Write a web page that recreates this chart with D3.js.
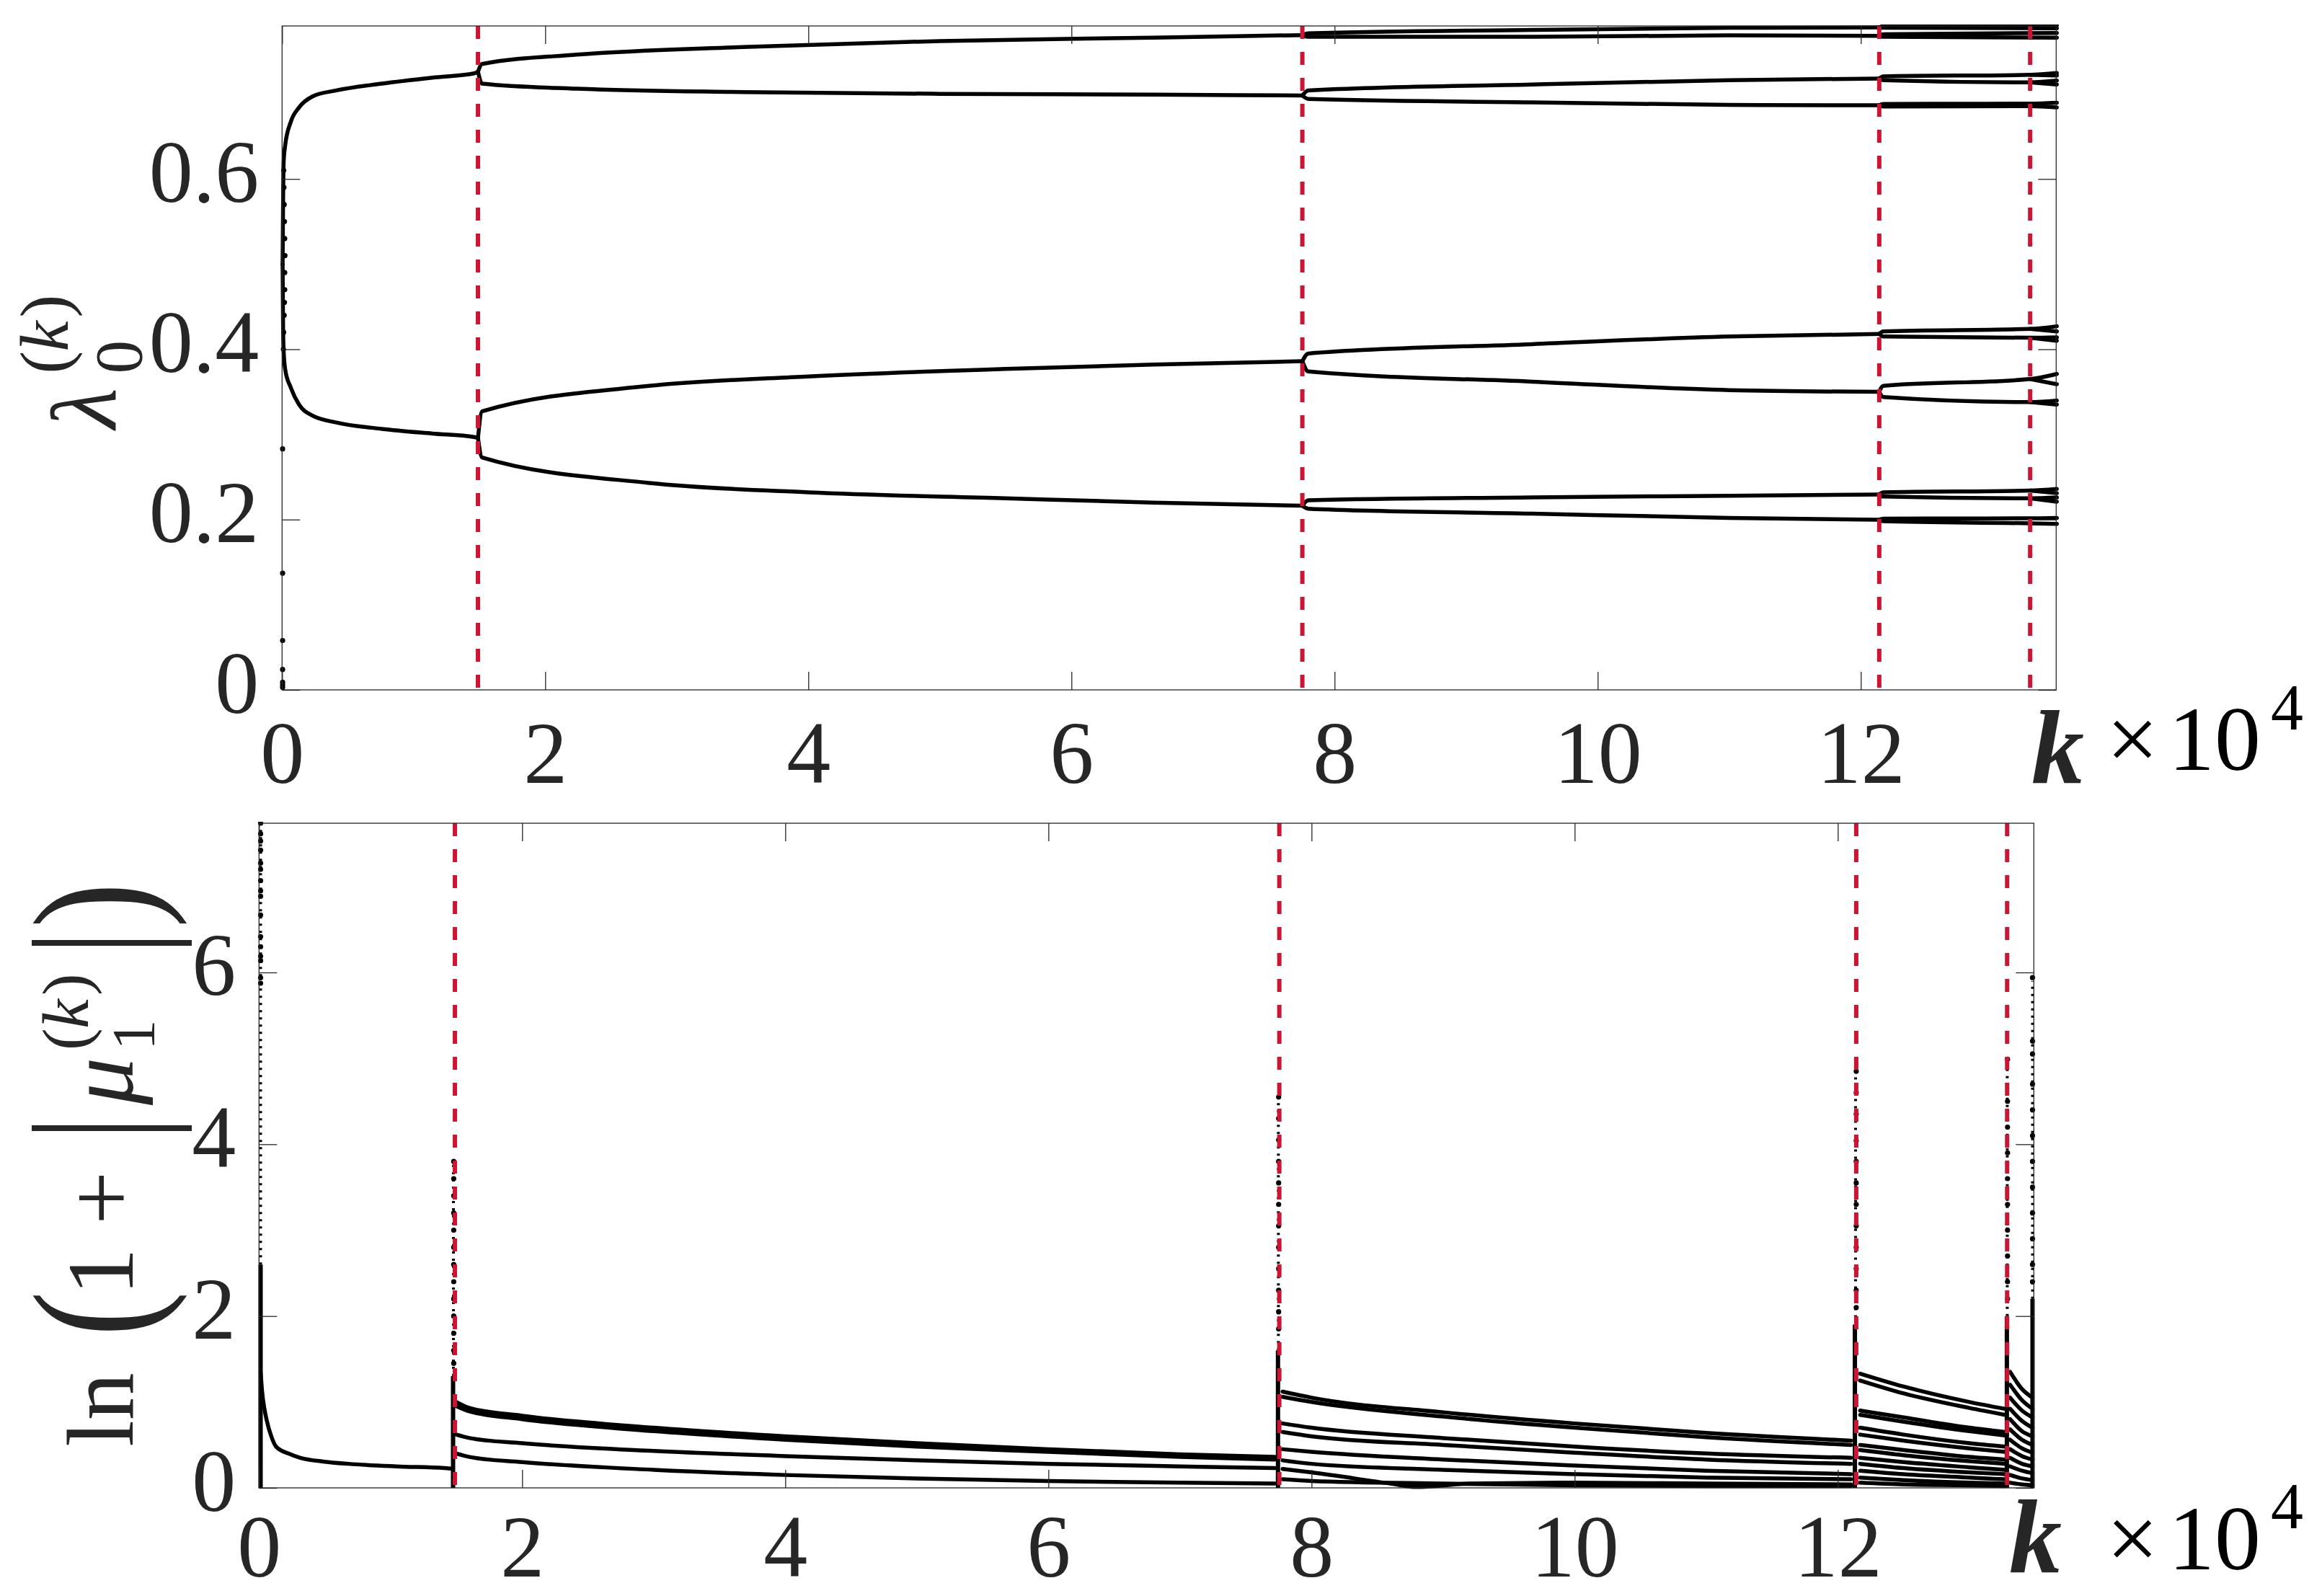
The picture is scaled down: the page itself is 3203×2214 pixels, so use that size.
<!DOCTYPE html>
<html lang="en">
<head>
<meta charset="UTF-8">
<title>Bifurcation of lambda0 and mu1</title>
<script src="https://d3js.org/d3.v7.min.js"></script>
<style>
  body { margin: 0; background: #fff; }
  svg { background: #fff; display: block; }
</style>
</head>
<body>
<svg width="3203" height="2214"></svg>
<script>
// ---- data (k in units of 1e4) ----
const kTicks = [0, 2, 4, 6, 8, 10, 12];
const lamTicks = [0, 0.2, 0.4, 0.6];
const muTicks = [0, 2, 4, 6];
const splitK = [1.489, 7.755, 12.14, 13.287];

// top panel: branches of lambda_0^(k)
const lamBranches = [
  [[0.004,0.50],[0.008,0.58],[0.012,0.62],[0.024,0.64],[0.066,0.667],[0.129,0.684],[0.232,0.697],[0.413,0.704],[0.758,0.712],[1.143,0.719],[1.46,0.724],[1.489,0.726]],
  [[0.004,0.50],[0.008,0.42],[0.012,0.398],[0.024,0.376],[0.066,0.355],[0.129,0.335],[0.232,0.322],[0.413,0.314],[0.758,0.3065],[1.143,0.301],[1.46,0.297],[1.489,0.296]],
  // after first split
  [[1.489,0.726],[1.52,0.735],[2.24,0.746],[3.5,0.755],[5,0.762],[6.62,0.766],[7.755,0.769]],
  [[1.489,0.726],[1.52,0.712],[2.24,0.706],[3.5,0.702],[5,0.700],[6.62,0.699],[7.755,0.698]],
  [[1.489,0.296],[1.52,0.327],[2.79,0.357],[4,0.368],[5.5,0.377],[6.62,0.382],[7.755,0.386]],
  [[1.489,0.296],[1.52,0.273],[2.79,0.243],[4,0.232],[5.5,0.225],[6.62,0.220],[7.755,0.2163]],
  // after second split
  [[7.755,0.769],[7.8,0.771],[9.5,0.775],[11,0.7775],[12.14,0.778]],
  [[7.755,0.769],[7.8,0.767],[9.5,0.767],[11,0.7686],[12.14,0.768]],
  [[7.755,0.698],[7.8,0.704],[9.5,0.711],[11,0.716],[12.14,0.718]],
  [[7.755,0.698],[7.8,0.694],[9.5,0.690],[11,0.687],[12.14,0.6865]],
  [[7.755,0.386],[7.8,0.395],[9.5,0.406],[11,0.415],[12.14,0.418]],
  [[7.755,0.386],[7.8,0.374],[9.5,0.362],[11,0.352],[12.14,0.350]],
  [[7.755,0.2163],[7.8,0.2227],[9.5,0.226],[11,0.228],[12.14,0.2294]],
  [[7.755,0.2163],[7.8,0.2128],[9.5,0.207],[11,0.202],[12.14,0.1998]],
  // after third split
  [[12.14,0.778],[12.17,0.7795],[13.49,0.7805]],
  [[12.14,0.778],[12.17,0.7775],[13.49,0.777]],
  [[12.14,0.768],[12.17,0.770],[13.49,0.7715]],
  [[12.14,0.768],[12.17,0.767],[13.49,0.766]],
  [[12.14,0.718],[12.17,0.7205],[13.287,0.7223],[13.49,0.7245]],
  [[13.287,0.7223],[13.49,0.7215]],
  [[12.14,0.718],[12.17,0.716],[13.287,0.7134],[13.49,0.7155]],
  [[13.287,0.7134],[13.49,0.711]],
  [[12.14,0.6865],[12.17,0.688],[13.287,0.6885],[13.49,0.6896]],
  [[12.14,0.6865],[12.17,0.685],[13.287,0.6855],[13.49,0.684]],
  [[12.14,0.418],[12.17,0.421],[13.287,0.424],[13.49,0.427]],
  [[13.287,0.424],[13.49,0.421]],
  [[12.14,0.418],[12.17,0.415],[13.287,0.4135],[13.49,0.414]],
  [[13.287,0.4135],[13.49,0.410]],
  [[12.14,0.350],[12.17,0.357],[13.287,0.365],[13.49,0.371]],
  [[13.287,0.365],[13.49,0.359]],
  [[12.14,0.350],[12.17,0.344],[13.287,0.338],[13.49,0.3398]],
  [[13.287,0.338],[13.49,0.335]],
  [[12.14,0.2294],[12.17,0.232],[13.287,0.234],[13.49,0.236]],
  [[13.287,0.234],[13.49,0.231]],
  [[12.14,0.2294],[12.17,0.227],[13.287,0.225],[13.49,0.226]],
  [[13.287,0.225],[13.49,0.221]],
  [[12.14,0.1998],[12.17,0.201],[13.287,0.2015],[13.49,0.202]],
  [[12.14,0.1998],[12.17,0.198],[13.287,0.1956],[13.49,0.195]]
];
const lamDots = [
  [0.004,0.003],[0.004,0.006],[0.004,0.009],[0.004,0.024],[0.004,0.058],[0.004,0.137],[0.004,0.283],
  [0.01,0.40],[0.012,0.42],[0.016,0.44],[0.018,0.455],[0.02,0.47],[0.02,0.49],[0.022,0.51],
  [0.02,0.53],[0.018,0.55],[0.016,0.57],[0.014,0.59],[0.012,0.61]
];

// bottom panel: branches of ln(1+|mu_1^(k)|)
const muBranches = [
  [[0.012,1.35],[0.025,1.1],[0.04,0.93],[0.058,0.79],[0.095,0.593],[0.13,0.48],[0.223,0.40],[0.314,0.35],[0.497,0.305],[0.68,0.28],[1.045,0.25],[1.41,0.23],[1.46,0.225]],
  [[1.50,1.00],[1.6,0.93],[2,0.84],[3,0.70],[4,0.60],[5,0.52],[6,0.45],[7,0.39],[7.72,0.36]],
  [[1.50,0.95],[1.6,0.89],[2,0.80],[3,0.66],[4,0.56],[5,0.48],[6,0.42],[7,0.36],[7.72,0.33]],
  [[1.50,0.62],[1.6,0.58],[2,0.52],[3,0.43],[4,0.37],[5,0.32],[6,0.28],[7,0.25],[7.72,0.23]],
  [[1.50,0.40],[1.6,0.36],[2,0.30],[3,0.21],[4,0.15],[5,0.11],[6,0.08],[7,0.06],[7.72,0.05]],
  [[7.78,1.12],[8,1.05],[9,0.88],[10,0.75],[11,0.64],[12.1,0.55]],
  [[7.78,1.06],[8,1.00],[9,0.83],[10,0.70],[11,0.59],[12.1,0.50]],
  [[7.78,0.75],[8,0.70],[9,0.58],[10,0.48],[11,0.40],[12.1,0.35]],
  [[7.78,0.65],[8,0.60],[9,0.50],[10,0.41],[11,0.33],[12.1,0.28]],
  [[7.78,0.45],[8,0.42],[9,0.33],[10,0.26],[11,0.20],[12.1,0.16]],
  [[7.78,0.32],[8,0.28],[9,0.21],[10,0.16],[11,0.12],[12.1,0.10]],
  [[7.78,0.22],[8,0.18],[8.6,0.05],[8.8,0.01],[9.2,0.05],[10,0.06],[11,0.05],[12.1,0.04]],
  [[7.78,0.10],[8,0.08],[9,0.05],[10,0.03],[11,0.02],[12.1,0.02]],
  [[12.17,1.33],[12.5,1.18],[13,1.00],[13.27,0.92]],
  [[12.17,1.25],[12.5,1.10],[13,0.93],[13.27,0.85]],
  [[12.17,0.90],[12.5,0.82],[13,0.70],[13.27,0.65]],
  [[12.17,0.85],[12.5,0.77],[13,0.66],[13.27,0.61]],
  [[12.17,0.70],[12.5,0.62],[13,0.52],[13.27,0.48]],
  [[12.17,0.62],[12.5,0.55],[13,0.46],[13.27,0.42]],
  [[12.17,0.50],[12.5,0.44],[13,0.36],[13.27,0.33]],
  [[12.17,0.44],[12.5,0.38],[13,0.31],[13.27,0.28]],
  [[12.17,0.35],[12.5,0.30],[13,0.24],[13.27,0.21]],
  [[12.17,0.28],[12.5,0.23],[13,0.18],[13.27,0.16]],
  [[12.17,0.20],[12.5,0.16],[13,0.12],[13.27,0.10]],
  [[12.17,0.12],[12.5,0.09],[13,0.06],[13.27,0.05]],
  [[12.17,0.06],[12.5,0.04],[13,0.03],[13.27,0.02]],
  [[13.31,1.35],[13.4,1.15],[13.48,1.05]],
  [[13.31,1.20],[13.4,1.02],[13.48,0.92]],
  [[13.31,1.05],[13.4,0.90],[13.48,0.82]],
  [[13.31,0.92],[13.4,0.78],[13.48,0.70]],
  [[13.31,0.80],[13.4,0.66],[13.48,0.60]],
  [[13.31,0.68],[13.4,0.56],[13.48,0.50]],
  [[13.31,0.56],[13.4,0.46],[13.48,0.41]],
  [[13.31,0.45],[13.4,0.37],[13.48,0.33]],
  [[13.31,0.35],[13.4,0.28],[13.48,0.25]],
  [[13.31,0.25],[13.4,0.20],[13.48,0.17]],
  [[13.31,0.15],[13.4,0.11],[13.48,0.09]],
  [[13.31,0.06],[13.4,0.04],[13.48,0.03]]
];
// dense vertical columns of points: [k, from, to]
const muColumns = [
  [0.012, 0, 2.6], [1.475, 0, 1.3], [7.745, 0, 1.6], [12.13, 0, 1.9], [13.285, 0, 2.0], [13.48, 0, 2.2]
];
// sparser, speckled parts of the same columns: [k, from, to]
const muSpeckle = [
  [0.012, 2.6, 7.7], [1.478, 1.3, 3.8], [7.748, 1.6, 4.5], [12.135, 1.9, 4.8], [13.288, 2.0, 5.0], [13.48, 2.2, 5.9]
];
const muDots = [
  [0.012,7.737],[0.012,7.614],[0.012,7.53],[0.012,7.424],[0.012,7.273],[0.012,7.20],[0.012,7.068],[0.012,6.951],
  [0.012,6.887],[0.012,6.669],[0.012,6.417],[0.012,6.30],[0.012,6.188],[0.012,6.137],[0.012,5.939],[0.012,5.874],
  [1.48,3.80],[1.48,3.60],[1.48,3.40],[1.48,3.20],[1.48,3.00],[1.48,2.80],[1.48,2.60],[1.48,2.40],[1.48,2.20],[1.48,2.00],[1.48,1.80],[1.48,1.60],[1.48,1.45],
  [7.75,4.55],[7.75,4.30],[7.75,4.05],[7.75,3.80],[7.75,3.55],[7.75,3.30],[7.75,3.05],[7.75,2.80],[7.75,2.55],[7.75,2.30],[7.75,2.05],[7.75,1.85],
  [12.14,4.85],[12.14,4.60],[12.14,4.35],[12.14,4.04],[12.14,3.80],[12.14,3.55],[12.14,3.30],[12.14,3.05],[12.14,2.80],[12.14,2.55],[12.14,2.30],[12.14,2.10],
  [13.29,4.99],[13.29,4.50],[13.29,4.20],[13.29,3.90],[13.29,3.60],[13.29,3.30],[13.29,3.00],[13.29,2.70],[13.29,2.40],[13.29,2.20],
  [13.48,5.94],[13.48,5.20],[13.48,5.05],[13.48,4.70],[13.48,4.40],[13.48,4.10],[13.48,3.80],[13.48,3.50],[13.48,3.20],[13.48,2.90],[13.48,2.60],[13.48,2.40]
];

// ---- layout ----
const svg = d3.select("svg");
const ink = "#262626";
const red = "#cc1433";
const serif = "'Liberation Serif', 'DejaVu Serif', serif";
const tickFont = 122;

const panels = [
  { left: 391.3, right: 2852.3, top: 36, bottom: 957, xMax: 13.485, yMax: 0.7797, labelDrop: 129,
    yTicks: lamTicks, fmt: d => d === 0 ? "0" : d3.format(".1f")(d),
    branches: lamBranches, dots: lamDots, columns: [], speckle: [] },
  { left: 359.3, right: 2821.3, top: 1142, bottom: 2064, xMax: 13.49, yMax: 7.737, labelDrop: 123,
    yTicks: muTicks, fmt: d => String(d),
    branches: muBranches, dots: muDots, columns: muColumns, speckle: muSpeckle }
];

panels.forEach(p => {
  const x = d3.scaleLinear().domain([0, p.xMax]).range([p.left, p.right]);
  const y = d3.scaleLinear().domain([0, p.yMax]).range([p.bottom, p.top]);
  const g = svg.append("g");

  const clipId = "clip" + p.top;
  svg.append("clipPath").attr("id", clipId)
    .append("rect").attr("x", p.left - 6).attr("y", p.top - 2)
    .attr("width", p.right - p.left + 10).attr("height", p.bottom - p.top + 4);

  const plot = g.append("g").attr("clip-path", `url(#${clipId})`);

  const line = d3.line().x(d => x(d[0])).y(d => y(d[1])).curve(d3.curveMonotoneX);

  plot.selectAll("line.col").data(p.columns).join("line")
    .attr("class", "col")
    .attr("x1", d => x(d[0])).attr("x2", d => x(d[0]))
    .attr("y1", d => y(d[1])).attr("y2", d => y(d[2]))
    .attr("stroke", "#000").attr("stroke-width", 6);

  plot.selectAll("line.speck").data(p.speckle).join("line")
    .attr("class", "speck")
    .attr("x1", d => x(d[0])).attr("x2", d => x(d[0]))
    .attr("y1", d => y(d[1])).attr("y2", d => y(d[2]))
    .attr("stroke", "#000").attr("stroke-width", 4).attr("stroke-dasharray", "3,7");

  plot.selectAll("path.branch").data(p.branches).join("path")
    .attr("class", "branch")
    .attr("d", line)
    .attr("fill", "none").attr("stroke", "#000")
    .attr("stroke-width", 5.5).attr("stroke-linejoin", "round").attr("stroke-linecap", "round");

  plot.selectAll("circle").data(p.dots).join("circle")
    .attr("cx", d => x(d[0])).attr("cy", d => y(d[1])).attr("r", 3.6).attr("fill", "#000");

  // red dashed split markers
  plot.selectAll("line.split").data(splitK).join("line")
    .attr("class", "split")
    .attr("x1", d => x(d)).attr("x2", d => x(d))
    .attr("y1", p.top).attr("y2", p.bottom)
    .attr("stroke", red).attr("stroke-width", 6).attr("stroke-dasharray", "18,18");

  // axes (ticks pointing inward, mirrored on top/right)
  const axB = g.append("g").attr("transform", `translate(0,${p.bottom})`)
    .call(d3.axisBottom(x).tickValues(kTicks).tickSize(-25).tickFormat(d3.format("d")));
  axB.selectAll("text").attr("y", 0).attr("dy", 0).attr("transform", `translate(0,${p.labelDrop})`);
  g.append("g").attr("transform", `translate(0,${p.top})`)
    .call(d3.axisTop(x).tickValues(kTicks).tickSize(-25).tickFormat(""));
  const axL = g.append("g").attr("transform", `translate(${p.left},0)`)
    .call(d3.axisLeft(y).tickValues(p.yTicks).tickSize(-25).tickFormat(p.fmt));
  axL.selectAll("text").attr("x", -32).attr("dy", 0).attr("transform", "translate(0,31)");
  g.append("g").attr("transform", `translate(${p.right},0)`)
    .call(d3.axisRight(y).tickValues(p.yTicks).tickSize(-25).tickFormat(""));

  g.selectAll(".domain").remove();
  g.selectAll("g[font-family]").attr("font-family", serif).attr("font-size", tickFont);
  g.selectAll(".tick line").attr("stroke", ink).attr("stroke-width", 1.3);
  g.selectAll(".tick text").attr("fill", ink).attr("font-family", serif).attr("font-size", tickFont);

  g.append("rect").attr("x", p.left).attr("y", p.top)
    .attr("width", p.right - p.left).attr("height", p.bottom - p.top)
    .attr("fill", "none").attr("stroke", ink).attr("stroke-width", 1.3);
});

// ---- x labels ----
function txt(parent, x, y, size, str, opts = {}) {
  return parent.append("text").attr("x", x).attr("y", y)
    .attr("font-family", serif).attr("font-size", size)
    .attr("font-style", opts.italic ? "italic" : "normal")
    .attr("font-weight", opts.bold ? "bold" : "normal")
    .attr("fill", opts.fill || ink).text(str);
}
function kLabel(kx, kBase, tBase, supBase) {
  txt(svg, kx, kBase, 146, "k", { italic: true, bold: true });
  txt(svg, 2922, tBase, 128, "\u00d7", { fill: "#000" });
  txt(svg, 3008, tBase, 128, "10", { fill: "#000" });
  txt(svg, 3150, supBase, 90, "4", { fill: "#000" });
}
kLabel(2818, 1087, 1068, 1012);
kLabel(2787, 2182, 2177, 2120);

// ---- y label, top: lambda_0^(k) ----
const yl1 = svg.append("g").attr("transform", "translate(161,496.5) rotate(-90)");
txt(yl1, -98, 0, 130, "\u03bb", { italic: true });
txt(yl1, -22, 35, 93, "0");
txt(yl1, -22, -67, 95, "(");
txt(yl1, 9, -67, 95, "k", { italic: true });
txt(yl1, 56, -67, 95, ")");

// ---- y label, bottom: ln(1+|mu_1^(k)|) ----
const yl2 = svg.append("g").attr("transform", "translate(184,1614) rotate(-90)");
txt(yl2, -393, 0, 132, "ln");
txt(yl2, 0, 0, 236, "(").attr("transform", "translate(-240,25) scale(0.8,1)");
txt(yl2, -183, 0, 132, "1");
txt(yl2, -85, 0, 132, "+");
yl2.append("rect").attr("x", 45).attr("y", -140).attr("width", 8).attr("height", 222).attr("fill", ink);
txt(yl2, 81, 0, 132, "\u03bc", { italic: true });
txt(yl2, 157, 30, 85, "1");
txt(yl2, 157, -62, 92, "(");
txt(yl2, 187, -62, 92, "k", { italic: true });
txt(yl2, 233, -62, 92, ")");
yl2.append("rect").attr("x", 302).attr("y", -140).attr("width", 8).attr("height", 222).attr("fill", ink);
txt(yl2, 0, 0, 236, ")").attr("transform", "translate(327,25) scale(0.8,1)");
</script>
</body>
</html>
